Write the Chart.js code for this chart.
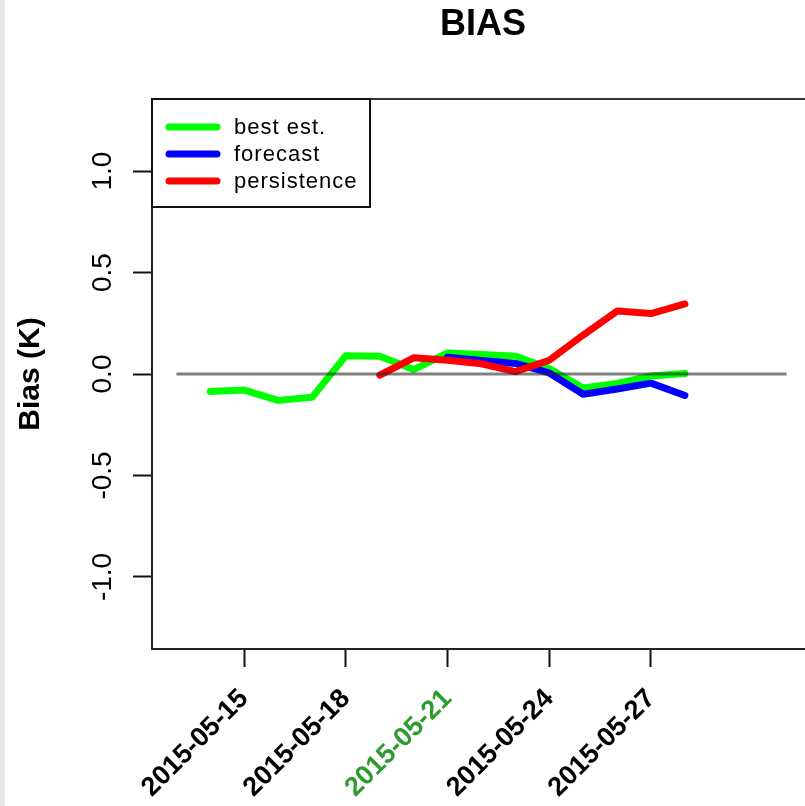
<!DOCTYPE html>
<html>
<head>
<meta charset="utf-8">
<title>BIAS</title>
<script src="https://cdn.jsdelivr.net/npm/chart.js@4/dist/chart.umd.min.js"></script>
<style>
    html, body { margin: 0; padding: 0; background: #ffffff; overflow: hidden; }
    #strip { position: absolute; left: 0; top: 0; width: 5px; height: 806px; background: #e6e6e6; z-index: 2; }
    #wrap { position: absolute; left: 0; top: 0; }
</style>
</head>
<body>
<div id="strip"></div>
<div id="wrap"><canvas id="biasChart" width="966" height="806"></canvas></div>
<script>
// Dados (dia de maio de 2015 -> bias em K)
const bestDays = [14, 15, 16, 17, 18, 19, 20, 21, 22, 23, 24, 25, 26, 27, 28];
const bestEst = [-0.086, -0.079, -0.13, -0.115, 0.09, 0.087, 0.022, 0.104, 0.096, 0.088, 0.027, -0.069, -0.047, -0.01, 0.002];

const forecastDays = [21, 22, 23, 24, 25, 26, 27, 28];
const forecast = [0.082, 0.066, 0.052, 0.005, -0.1, -0.074, -0.045, -0.106];

const persistenceDays = [19, 20, 21, 22, 23, 24, 25, 26, 27, 28];
const persistence = [-0.006, 0.08, 0.068, 0.05, 0.012, 0.068, 0.192, 0.31, 0.298, 0.345];

const zeroDays = [13, 31];
const zeroValues = [0, 0];

const xTickDays = [15, 18, 21, 24, 27];
const yTicks = [-1.0, -0.5, 0.0, 0.5, 1.0];
const highlightDay = 21;

const seriesLabels = ['best est.', 'forecast', 'persistence'];
const seriesColors = ['#00ff00', '#0000ff', '#ff0000'];

function toPoints(days, values) {
    return days.map((d, i) => ({ x: d, y: values[i] }));
}

function dateLabel(day) {
    return '2015-05-' + String(day).padStart(2, '0');
}

// Moldura superior do gráfico
const framePlugin = {
    id: 'frame',
    afterDraw(chart) {
        const ctx = chart.ctx;
        const a = chart.chartArea;
        ctx.save();
        ctx.strokeStyle = '#333333';
        ctx.lineWidth = 2;
        ctx.beginPath();
        ctx.moveTo(a.left, a.top);
        ctx.lineTo(a.right, a.top);
        ctx.lineTo(a.right, a.bottom);
        ctx.stroke();
        ctx.restore();
    }
};

// Legenda com caixa, no canto superior esquerdo
const boxLegendPlugin = {
    id: 'boxLegend',
    afterDraw(chart) {
        const ctx = chart.ctx;
        const a = chart.chartArea;
        const boxW = 218, boxH = 108;
        ctx.save();
        ctx.fillStyle = '#ffffff';
        ctx.fillRect(a.left, a.top, boxW, boxH);
        ctx.strokeStyle = '#111111';
        ctx.lineWidth = 2;
        ctx.strokeRect(a.left, a.top, boxW, boxH);
        ctx.font = '22px "Liberation Sans", Arial, sans-serif';
        ctx.letterSpacing = '1px';
        ctx.textBaseline = 'middle';
        ctx.lineCap = 'round';
        seriesLabels.forEach((label, i) => {
            const y = a.top + 28 + i * 27;
            ctx.strokeStyle = seriesColors[i];
            ctx.lineWidth = 7;
            ctx.beginPath();
            ctx.moveTo(a.left + 17, y);
            ctx.lineTo(a.left + 65, y);
            ctx.stroke();
            ctx.fillStyle = '#000000';
            ctx.fillText(label, a.left + 82, y + 1);
        });
        ctx.restore();
    }
};

const lineStyle = {
    borderWidth: 7,
    pointRadius: 0,
    borderCapStyle: 'round',
    borderJoinStyle: 'round',
    tension: 0,
    fill: false
};

new Chart(document.getElementById('biasChart'), {
    type: 'line',
    data: {
        datasets: [
            Object.assign({ label: seriesLabels[0], data: toPoints(bestDays, bestEst), borderColor: seriesColors[0], order: 3 }, lineStyle),
            Object.assign({ label: seriesLabels[1], data: toPoints(forecastDays, forecast), borderColor: seriesColors[1], order: 2 }, lineStyle),
            Object.assign({ label: seriesLabels[2], data: toPoints(persistenceDays, persistence), borderColor: seriesColors[2], order: 1 }, lineStyle),
            {
                label: 'zero',
                data: toPoints(zeroDays, zeroValues),
                borderColor: 'rgba(43, 43, 43, 0.6)',
                borderWidth: 3,
                pointRadius: 0,
                order: 0
            }
        ]
    },
    options: {
        responsive: false,
        animation: false,
        layout: { padding: 0 },
        plugins: {
            legend: { display: false },
            tooltip: { enabled: false },
            title: {
                display: true,
                text: 'BIAS',
                color: '#000000',
                font: { family: '"Liberation Sans", Arial, sans-serif', size: 36, weight: 'bold' },
                padding: { top: 3, bottom: 52.8 }
            }
        },
        scales: {
            x: {
                type: 'linear',
                min: 12.28,
                max: 31.72,
                afterBuildTicks(scale) {
                    scale.ticks = xTickDays.map(v => ({ value: v }));
                },
                afterFit(scale) {
                    scale.height = 157;
                },
                grid: { drawOnChartArea: false, drawTicks: true, tickLength: 18, tickColor: '#111111', tickWidth: 2 },
                border: { display: true, color: '#222222', width: 2 },
                ticks: {
                    autoSkip: false,
                    minRotation: 45,
                    maxRotation: 45,
                    padding: 16,
                    color: ctx => (ctx.tick && ctx.tick.value === highlightDay ? '#2e9b2e' : '#000000'),
                    font: { family: '"Liberation Sans", Arial, sans-serif', size: 27, weight: 'bold' },
                    callback: value => dateLabel(value)
                }
            },
            y: {
                type: 'linear',
                position: 'left',
                min: -1.355,
                max: 1.355,
                afterBuildTicks(scale) {
                    scale.ticks = yTicks.map(v => ({ value: v }));
                },
                afterFit(scale) {
                    scale.width = 152;
                },
                grid: { drawOnChartArea: false, drawTicks: true, tickLength: 19, tickColor: '#111111', tickWidth: 2 },
                border: { display: true, color: '#222222', width: 2 },
                ticks: {
                    minRotation: 90,
                    maxRotation: 90,
                    crossAlign: 'center',
                    padding: 6,
                    color: '#000000',
                    font: { family: '"Liberation Sans", Arial, sans-serif', size: 28 },
                    callback: value => value.toFixed(1)
                },
                title: {
                    display: true,
                    text: 'Bias (K)',
                    color: '#000000',
                    font: { family: '"Liberation Sans", Arial, sans-serif', size: 30, weight: 'bold' },
                    padding: { top: 13, bottom: 0 }
                }
            },
            // eixo vazio à direita: reserva o espaço fora da janela
            yRight: {
                type: 'linear',
                position: 'right',
                min: -1.355,
                max: 1.355,
                afterFit(scale) {
                    scale.width = 155;
                },
                grid: { display: false },
                border: { display: false },
                ticks: { display: false }
            }
        }
    },
    plugins: [framePlugin, boxLegendPlugin]
});
</script>
</body>
</html>
